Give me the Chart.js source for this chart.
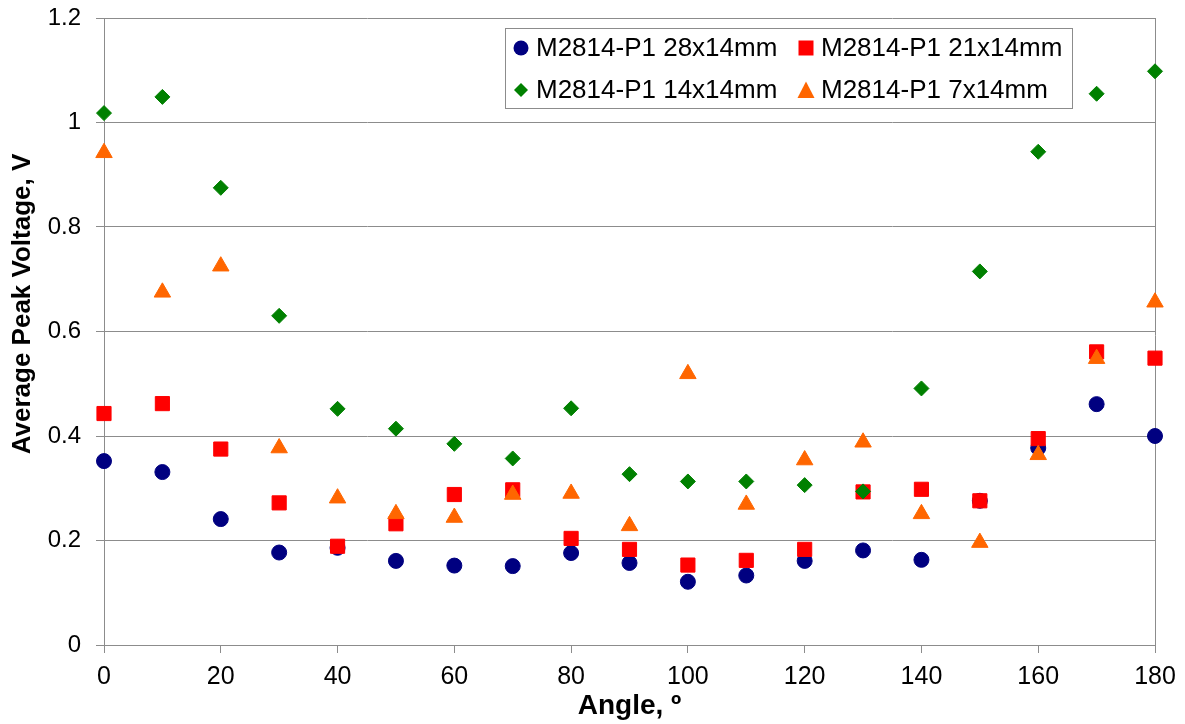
<!DOCTYPE html>
<html>
<head>
<meta charset="utf-8">
<title>Average Peak Voltage vs Angle</title>
<script src="https://cdn.jsdelivr.net/npm/chart.js@4.4.0/dist/chart.umd.min.js"></script>
<style>
    html, body { margin: 0; padding: 0; background: #fff; }
    #wrap { width: 1185px; height: 724px; }
</style>
</head>
<body>
<div id="wrap"><canvas id="chart" width="1185" height="724"></canvas></div>
<script>
// Measured data, angle in degrees, voltage in V
const angles = [0, 10, 20, 30, 40, 50, 60, 70, 80, 90, 100, 110, 120, 130, 140, 150, 160, 170, 180];
const seriesNames = ["M2814-P1 28x14mm", "M2814-P1 21x14mm", "M2814-P1 14x14mm", "M2814-P1 7x14mm"];
const volts28 = [0.352, 0.331, 0.241, 0.177, 0.186, 0.161, 0.152, 0.151, 0.176, 0.157, 0.121, 0.133, 0.161, 0.181, 0.163, 0.276, 0.377, 0.461, 0.400];
const volts21 = [0.443, 0.462, 0.375, 0.272, 0.189, 0.232, 0.288, 0.297, 0.204, 0.183, 0.153, 0.162, 0.183, 0.293, 0.298, 0.276, 0.395, 0.561, 0.549];
const volts14 = [1.018, 1.049, 0.875, 0.630, 0.452, 0.414, 0.385, 0.357, 0.453, 0.327, 0.313, 0.313, 0.306, 0.294, 0.491, 0.715, 0.944, 1.055, 1.098];
const volts7 = [0.942, 0.675, 0.725, 0.377, 0.281, 0.251, 0.244, 0.288, 0.290, 0.228, 0.519, 0.269, 0.354, 0.388, 0.251, 0.196, 0.364, 0.548, 0.656];
const xTicks = [0, 20, 40, 60, 80, 100, 120, 140, 160, 180];
const yTicks = [0, 0.2, 0.4, 0.6, 0.8, 1, 1.2];

const FONT = "'Liberation Sans', Arial, sans-serif";
const GRID = "#8c8c8c";

function toPoints(values) {
    return angles.map((a, i) => ({ x: a, y: values[i] }));
}

function makeSet(label, values, color, style, radius, order) {
    return {
        label: label,
        data: toPoints(values),
        pointStyle: style,
        pointRadius: radius,
        pointBackgroundColor: color,
        pointBorderColor: color,
        pointBorderWidth: 1,
        showLine: false,
        clip: false,
        order: order,
    };
}

// small marker painter for the legend box
function drawMarker(ctx, style, x, y, r, color) {
    ctx.fillStyle = color;
    ctx.beginPath();
    if (style === "circle") {
        ctx.arc(x, y, r, 0, Math.PI * 2);
    } else if (style === "rect") {
        ctx.rect(x - r, y - r, r * 2, r * 2);
    } else if (style === "rectRot") {
        ctx.moveTo(x - r, y);
        ctx.lineTo(x, y - r);
        ctx.lineTo(x + r, y);
        ctx.lineTo(x, y + r);
    } else {
        ctx.moveTo(x, y - r);
        ctx.lineTo(x + r, y + r * 0.95);
        ctx.lineTo(x - r, y + r * 0.95);
    }
    ctx.closePath();
    ctx.fill();
}

const extrasPlugin = {
    id: "extras",
    beforeDatasetsDraw(chart) {
        // right edge of the plot area
        const { ctx, chartArea } = chart;
        const rx = Math.round(chartArea.right) + 0.5;
        ctx.save();
        ctx.strokeStyle = GRID;
        ctx.lineWidth = 1;
        ctx.beginPath();
        ctx.moveTo(rx, chartArea.top);
        ctx.lineTo(rx, chartArea.bottom + 8);
        ctx.stroke();
        ctx.restore();
    },
    afterDraw(chart) {
        const ctx = chart.ctx;
        ctx.save();

        // y axis title
        ctx.save();
        ctx.translate(23, 304);
        ctx.rotate(-Math.PI / 2);
        ctx.font = "bold 26px " + FONT;
        ctx.fillStyle = "#000";
        ctx.textAlign = "center";
        ctx.textBaseline = "middle";
        ctx.fillText("Average Peak Voltage, V", 0, 0);
        ctx.restore();

        // legend box
        ctx.fillStyle = "#fff";
        ctx.fillRect(505, 28, 567, 80);
        ctx.strokeStyle = GRID;
        ctx.lineWidth = 1;
        ctx.strokeRect(505.5, 28.5, 567, 80);

        const slots = [
            { x: 521, y: 48 },
            { x: 806, y: 48 },
            { x: 521, y: 90 },
            { x: 806, y: 90 },
        ];
        const sizes = { circle: 7.5, rect: 7.5, rectRot: 7, triangle: 8.5 };
        chart.data.datasets.forEach((ds, i) => {
            const s = slots[i];
            drawMarker(ctx, ds.pointStyle, s.x, s.y, sizes[ds.pointStyle], ds.pointBackgroundColor);
            ctx.fillStyle = "#000";
            ctx.font = "26px " + FONT;
            ctx.textAlign = "left";
            ctx.textBaseline = "middle";
            ctx.fillText(ds.label, s.x + 15, s.y + 1);
        });
        ctx.restore();
    },
};

Chart.defaults.font.family = FONT;
Chart.defaults.color = "#000";

const ctx = document.getElementById("chart").getContext("2d");
new Chart(ctx, {
    type: "scatter",
    data: {
        datasets: [
            makeSet(seriesNames[0], volts28, "#000080", "circle", 7.5, 4),
            makeSet(seriesNames[1], volts21, "#ff0000", "rect", 10, 3),
            makeSet(seriesNames[2], volts14, "#008000", "rectRot", 7.5, 2),
            makeSet(seriesNames[3], volts7, "#ff6600", "triangle", 9.5, 1),
        ],
    },
    options: {
        responsive: false,
        animation: false,
        events: [],
        layout: {
            autoPadding: false,
            padding: { left: 0, right: 30, top: 18, bottom: 0 },
        },
        plugins: {
            legend: { display: false },
            tooltip: { enabled: false },
        },
        scales: {
            x: {
                type: "linear",
                min: 0,
                max: 180,
                afterBuildTicks: (scale) => {
                    scale.ticks = xTicks.map((v) => ({ value: v }));
                },
                afterFit: (scale) => {
                    scale.height = 79;
                },
                grid: {
                    drawOnChartArea: false,
                    drawTicks: true,
                    tickLength: 8,
                    color: GRID,
                },
                border: { color: GRID, width: 1 },
                ticks: {
                    autoSkip: false,
                    maxRotation: 0,
                    padding: 9,
                    font: { size: 25 },
                },
                title: {
                    display: true,
                    text: "Angle, º",
                    font: { size: 28, weight: "bold" },
                    padding: { top: 0, bottom: 1 },
                },
            },
            y: {
                type: "linear",
                min: 0,
                max: 1.2,
                afterBuildTicks: (scale) => {
                    scale.ticks = yTicks.map((v) => ({ value: v }));
                },
                afterFit: (scale) => {
                    scale.width = 104;
                    // tick padding would otherwise push the plot top down
                    scale.paddingTop = 0;
                    scale.paddingBottom = 0;
                },
                grid: {
                    color: GRID,
                    tickLength: 8,
                },
                border: { color: GRID, width: 1 },
                ticks: {
                    padding: 15,
                    font: { size: 24 },
                    callback: (value) => String(Number(value.toFixed(1))),
                },
            },
        },
    },
    plugins: [extrasPlugin],
});
</script>
</body>
</html>
